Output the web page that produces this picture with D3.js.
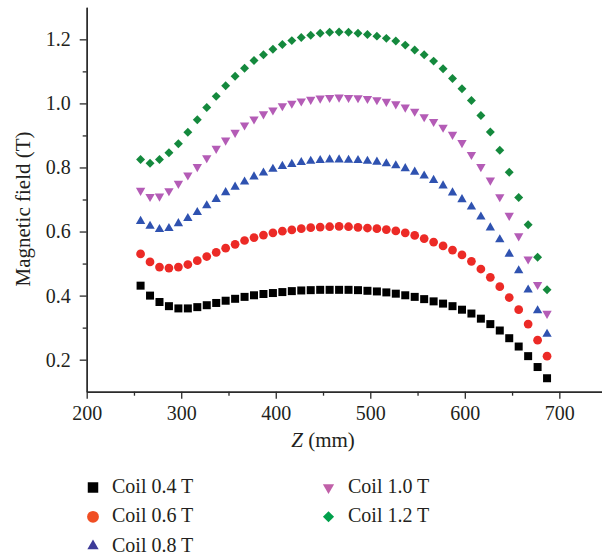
<!DOCTYPE html>
<html>
<head>
<meta charset="utf-8">
<script src="https://cdn.jsdelivr.net/npm/d3@7"></script>
<style>
  html, body { margin: 0; padding: 0; background: #fff; }
  svg { display: block; }
  text { font-family: "Liberation Serif", "DejaVu Serif", serif; fill: #231f20; }
</style>
</head>
<body>
<svg id="chart" width="602" height="558"></svg>
<script>
// ---- data ----
const zPositions = [257, 267, 277, 287, 297, 307, 317, 327, 337, 347, 357, 367, 377, 387, 397, 407, 417, 427, 437, 447, 457, 467,
  477, 487, 497, 507, 517, 527, 537, 547, 557, 567, 577, 587, 597, 607, 617, 627, 637, 647, 657, 667, 677, 687];

const coil04 = [0.431, 0.400, 0.380, 0.367, 0.360, 0.360, 0.364, 0.370, 0.377, 0.384, 0.390, 0.396, 0.401, 0.405, 0.408, 0.411, 0.414, 0.416, 0.417, 0.418, 0.418, 0.418,
  0.418, 0.417, 0.415, 0.413, 0.410, 0.406, 0.401, 0.396, 0.389, 0.382, 0.375, 0.367, 0.356, 0.344, 0.328, 0.311, 0.291, 0.267, 0.241, 0.211, 0.177, 0.142];

const coil06 = [0.530, 0.505, 0.489, 0.486, 0.489, 0.497, 0.509, 0.522, 0.535, 0.548, 0.560, 0.572, 0.581, 0.589, 0.596, 0.601, 0.605, 0.609, 0.612, 0.614, 0.615, 0.616,
  0.615, 0.613, 0.611, 0.609, 0.606, 0.602, 0.596, 0.588, 0.578, 0.567, 0.555, 0.542, 0.527, 0.507, 0.483, 0.457, 0.428, 0.394, 0.356, 0.311, 0.261, 0.211];

const coil08 = [0.632, 0.617, 0.607, 0.610, 0.625, 0.641, 0.660, 0.681, 0.701, 0.722, 0.739, 0.755, 0.771, 0.783, 0.795, 0.804, 0.810, 0.816, 0.820, 0.822, 0.824, 0.824,
  0.823, 0.822, 0.820, 0.817, 0.812, 0.806, 0.797, 0.786, 0.774, 0.760, 0.743, 0.721, 0.700, 0.677, 0.646, 0.612, 0.575, 0.530, 0.478, 0.418, 0.353, 0.280];

const coil10 = [0.728, 0.709, 0.710, 0.727, 0.750, 0.776, 0.802, 0.830, 0.859, 0.885, 0.909, 0.932, 0.951, 0.967, 0.979, 0.992, 1.000, 1.007, 1.012, 1.016, 1.018, 1.019,
  1.018, 1.017, 1.015, 1.011, 1.006, 0.998, 0.988, 0.975, 0.958, 0.943, 0.925, 0.903, 0.877, 0.840, 0.802, 0.760, 0.708, 0.650, 0.586, 0.514, 0.434, 0.344];

const coil12 = [0.825, 0.813, 0.825, 0.846, 0.874, 0.910, 0.949, 0.987, 1.022, 1.055, 1.085, 1.110, 1.134, 1.152, 1.169, 1.184, 1.196, 1.206, 1.213, 1.219, 1.222, 1.223,
  1.222, 1.219, 1.215, 1.210, 1.203, 1.195, 1.182, 1.167, 1.152, 1.132, 1.108, 1.078, 1.046, 1.009, 0.962, 0.911, 0.854, 0.785, 0.706, 0.621, 0.520, 0.418];

const seriesNames = ["Coil 0.4 T", "Coil 0.6 T", "Coil 0.8 T", "Coil 1.0 T", "Coil 1.2 T"];
const seriesValues = [coil04, coil06, coil08, coil10, coil12];

const xMajorTicks = [200, 300, 400, 500, 600, 700];
const xMinorTicks = [250, 350, 450, 550, 650];
const yMajorTicks = [0.2, 0.4, 0.6, 0.8, 1.0, 1.2];
const yMinorTicks = [0.3, 0.5, 0.7, 0.9, 1.1];

const xTitle = "Z";
const xUnit = " (mm)";
const yTitle = "Magnetic field (T)";

// ---- styles ----
const seriesColors = ["#000000", "#ec2a26", "#2f52b0", "#b45cb6", "#14893d"];
const legendColors = ["#000000", "#f04e23", "#3d3b98", "#c060a8", "#00a04b"];

// ---- chart ----
const svg = d3.select("#chart");
const x = d3.scaleLinear().domain([200, 750]).range([86.7, 606.6]);
const y = d3.scaleLinear().domain([0.1, 1.3]).range([391.7, 7.3]);

const axisColor = "#2b2b2b";
const fmtY = d3.format(".1f");

// minor ticks
const xMinor = svg.append("g").attr("transform", `translate(0,${y(0.1)})`)
  .call(d3.axisBottom(x).tickValues(xMinorTicks).tickSize(4).tickSizeOuter(0).tickFormat(""));
const yMinor = svg.append("g").attr("transform", `translate(${x(200)},0)`)
  .call(d3.axisLeft(y).tickValues(yMinorTicks).tickSize(4).tickSizeOuter(0).tickFormat(""));

// major ticks
const xAxis = svg.append("g").attr("transform", `translate(0,${y(0.1)})`)
  .call(d3.axisBottom(x).tickValues(xMajorTicks).tickSize(7).tickSizeOuter(0).tickPadding(7).tickFormat(d3.format("d")));
const yAxis = svg.append("g").attr("transform", `translate(${x(200)},0)`)
  .call(d3.axisLeft(y).tickValues(yMajorTicks).tickSize(7).tickSizeOuter(0).tickPadding(9).tickFormat(fmtY));

[xMinor, yMinor, xAxis, yAxis].forEach(g => {
  g.selectAll(".domain").attr("stroke", axisColor).attr("stroke-width", 1.4);
  g.selectAll(".tick line").attr("stroke", axisColor).attr("stroke-width", 1.3);
  g.selectAll("text").attr("font-family", "Liberation Serif, DejaVu Serif, serif")
    .attr("font-size", 20).attr("fill", "#231f20");
});

// symbols
const squareSym = d3.symbol().type(d3.symbolSquare);
const circleSym = d3.symbol().type(d3.symbolCircle);
const triSym = d3.symbol().type(d3.symbolTriangle);

function drawMarker(sel, idx, size) {
  // idx: 0 square, 1 circle, 2 up-triangle, 3 down-triangle, 4 diamond
  if (idx === 0) return sel.attr("d", squareSym.size(size)());
  if (idx === 1) return sel.attr("d", circleSym.size(size)());
  if (idx === 2) return sel.attr("d", triSym.size(size)());
  if (idx === 3) return sel.attr("d", triSym.size(size)()).attr("data-rot", 180);
  return sel.attr("d", squareSym.size(size)()).attr("data-rot", 45);
}

const markerSizes = [64, 60, 38, 38, 40];

seriesValues.forEach((vals, si) => {
  const g = svg.append("g").attr("fill", seriesColors[si]);
  g.selectAll("path").data(vals).join("path")
    .each(function (d, i) {
      const p = d3.select(this);
      drawMarker(p, si, markerSizes[si]);
      const rot = p.attr("data-rot") || 0;
      p.attr("transform", `translate(${x(zPositions[i])},${y(d)}) rotate(${rot})`);
    });
});

// axis titles
const xt = svg.append("text").attr("x", 323).attr("y", 447)
  .attr("text-anchor", "middle").attr("font-size", 21);
xt.append("tspan").attr("font-style", "italic").text(xTitle);
xt.append("tspan").text(xUnit);

svg.append("text")
  .attr("transform", "translate(29.5,209) rotate(-90)")
  .attr("text-anchor", "middle").attr("font-size", 21)
  .text(yTitle);

// legend
const legendCols = [[0, 1, 2], [3, 4]];
const legendX = [93, 328.5];
const legendTextX = [112, 348];
const legendY0 = 487.5, legendDy = 29.3;
const legendSizes = [110, 110, 55, 55, 62];

legendCols.forEach((col, ci) => {
  col.forEach((si, ri) => {
    const cy = legendY0 + ri * legendDy;
    const p = svg.append("path").attr("fill", legendColors[si]);
    drawMarker(p, si, legendSizes[si]);
    const rot = p.attr("data-rot") || 0;
    p.attr("transform", `translate(${legendX[ci]},${cy}) rotate(${rot})`);
    svg.append("text").attr("x", legendTextX[ci]).attr("y", cy + 5.5)
      .attr("font-size", 20).text(seriesNames[si]);
  });
});
</script>
</body>
</html>
